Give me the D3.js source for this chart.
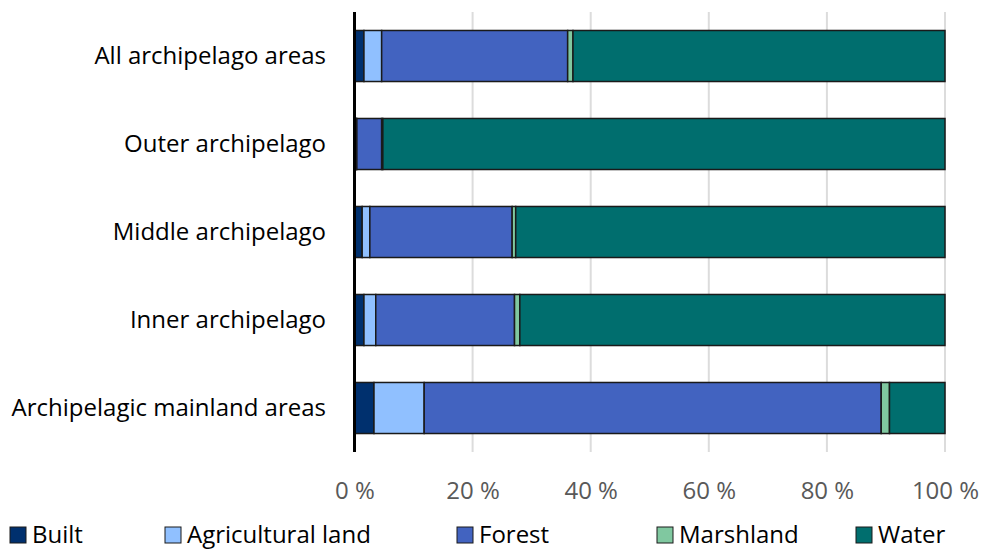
<!DOCTYPE html>
<html>
<head>
<meta charset="utf-8">
<script src="https://cdn.jsdelivr.net/npm/d3@7"></script>
<style>
  html, body { margin: 0; padding: 0; background: #fff; }
  svg text { font-family: "Open Sans", sans-serif; }
</style>
</head>
<body>
<svg id="chart" width="982" height="550"></svg>
<script>
// Land-use shares (%) per area type
const categories = ["All archipelago areas", "Outer archipelago", "Middle archipelago", "Inner archipelago", "Archipelagic mainland areas"];
const seriesNames = ["Built", "Agricultural land", "Forest", "Marshland", "Water"];
const built       = [1.6, 0.3, 1.3, 1.6, 3.3];
const agricultural = [3.0, 0.1, 1.3, 2.0, 8.5];
const forest      = [31.5, 4.2, 24.1, 23.5, 77.4];
const marshland   = [0.9, 0.2, 0.6, 0.9, 1.4];
const water       = [63.0, 95.2, 72.7, 72.0, 9.4];
const tickValues = [0, 20, 40, 60, 80, 100];
const colors = ["#00306e", "#90c0ff", "#4263c0", "#80c8a0", "#006e6e"];

const seriesValues = [built, agricultural, forest, marshland, water];
const rows = categories.map((c, i) => {
  const r = { category: c };
  seriesNames.forEach((s, j) => { r[s] = seriesValues[j][i]; });
  return r;
});

const svg = d3.select("#chart");
const x = d3.scaleLinear().domain([0, 100]).range([354.5, 945]);
const y = d3.scaleBand().domain(categories).range([12, 452]).paddingInner(0.42).paddingOuter(0.21);

// vertical gridlines
svg.append("g")
  .selectAll("line")
  .data(tickValues.filter(d => d > 0))
  .join("line")
  .attr("x1", d => x(d)).attr("x2", d => x(d))
  .attr("y1", 12).attr("y2", 452)
  .attr("stroke", "#dcdcdc").attr("stroke-width", 2);

const stack = d3.stack().keys(seriesNames)(rows);

svg.append("g")
  .selectAll("g")
  .data(stack)
  .join("g")
  .attr("fill", (d, i) => colors[i])
  .selectAll("rect")
  .data(d => d)
  .join("rect")
  .attr("x", d => x(d[0]))
  .attr("y", d => y(d.data.category))
  .attr("width", d => x(d[1]) - x(d[0]))
  .attr("height", y.bandwidth())
  .attr("stroke", "#1a1a1a").attr("stroke-width", 1.5);

// value axis line
svg.append("line")
  .attr("x1", x(0)).attr("x2", x(0))
  .attr("y1", 12).attr("y2", 452)
  .attr("stroke", "#000").attr("stroke-width", 3);

// category labels
svg.append("g")
  .selectAll("text")
  .data(categories)
  .join("text")
  .attr("x", 326)
  .attr("y", d => y(d) + y.bandwidth() / 2)
  .attr("dy", "0.35em")
  .attr("text-anchor", "end")
  .attr("font-size", 24)
  .attr("fill", "#000")
  .text(d => d);

// tick labels
const xAxis = d3.axisBottom(x).tickValues(tickValues).tickSize(0).tickPadding(0).tickFormat(d => d + " %");
const ax = svg.append("g").attr("transform", "translate(0,482)").call(xAxis);
ax.select(".domain").remove();
ax.selectAll("text")
  .attr("font-size", 24)
  .attr("fill", "#595959")
  .attr("font-family", "Open Sans, sans-serif");

// legend
const legendX = [10, 165, 457, 657, 856];
const lg = svg.append("g").selectAll("g").data(seriesNames).join("g")
  .attr("transform", (d, i) => `translate(${legendX[i]},527)`);
lg.append("rect")
  .attr("width", 16).attr("height", 16)
  .attr("fill", (d, i) => colors[i])
  .attr("stroke", "#1a1a1a").attr("stroke-width", 1);
lg.append("text")
  .attr("x", 22).attr("y", 8).attr("dy", "0.35em")
  .attr("font-size", 24).attr("fill", "#000")
  .text(d => d);
</script>
</body>
</html>
